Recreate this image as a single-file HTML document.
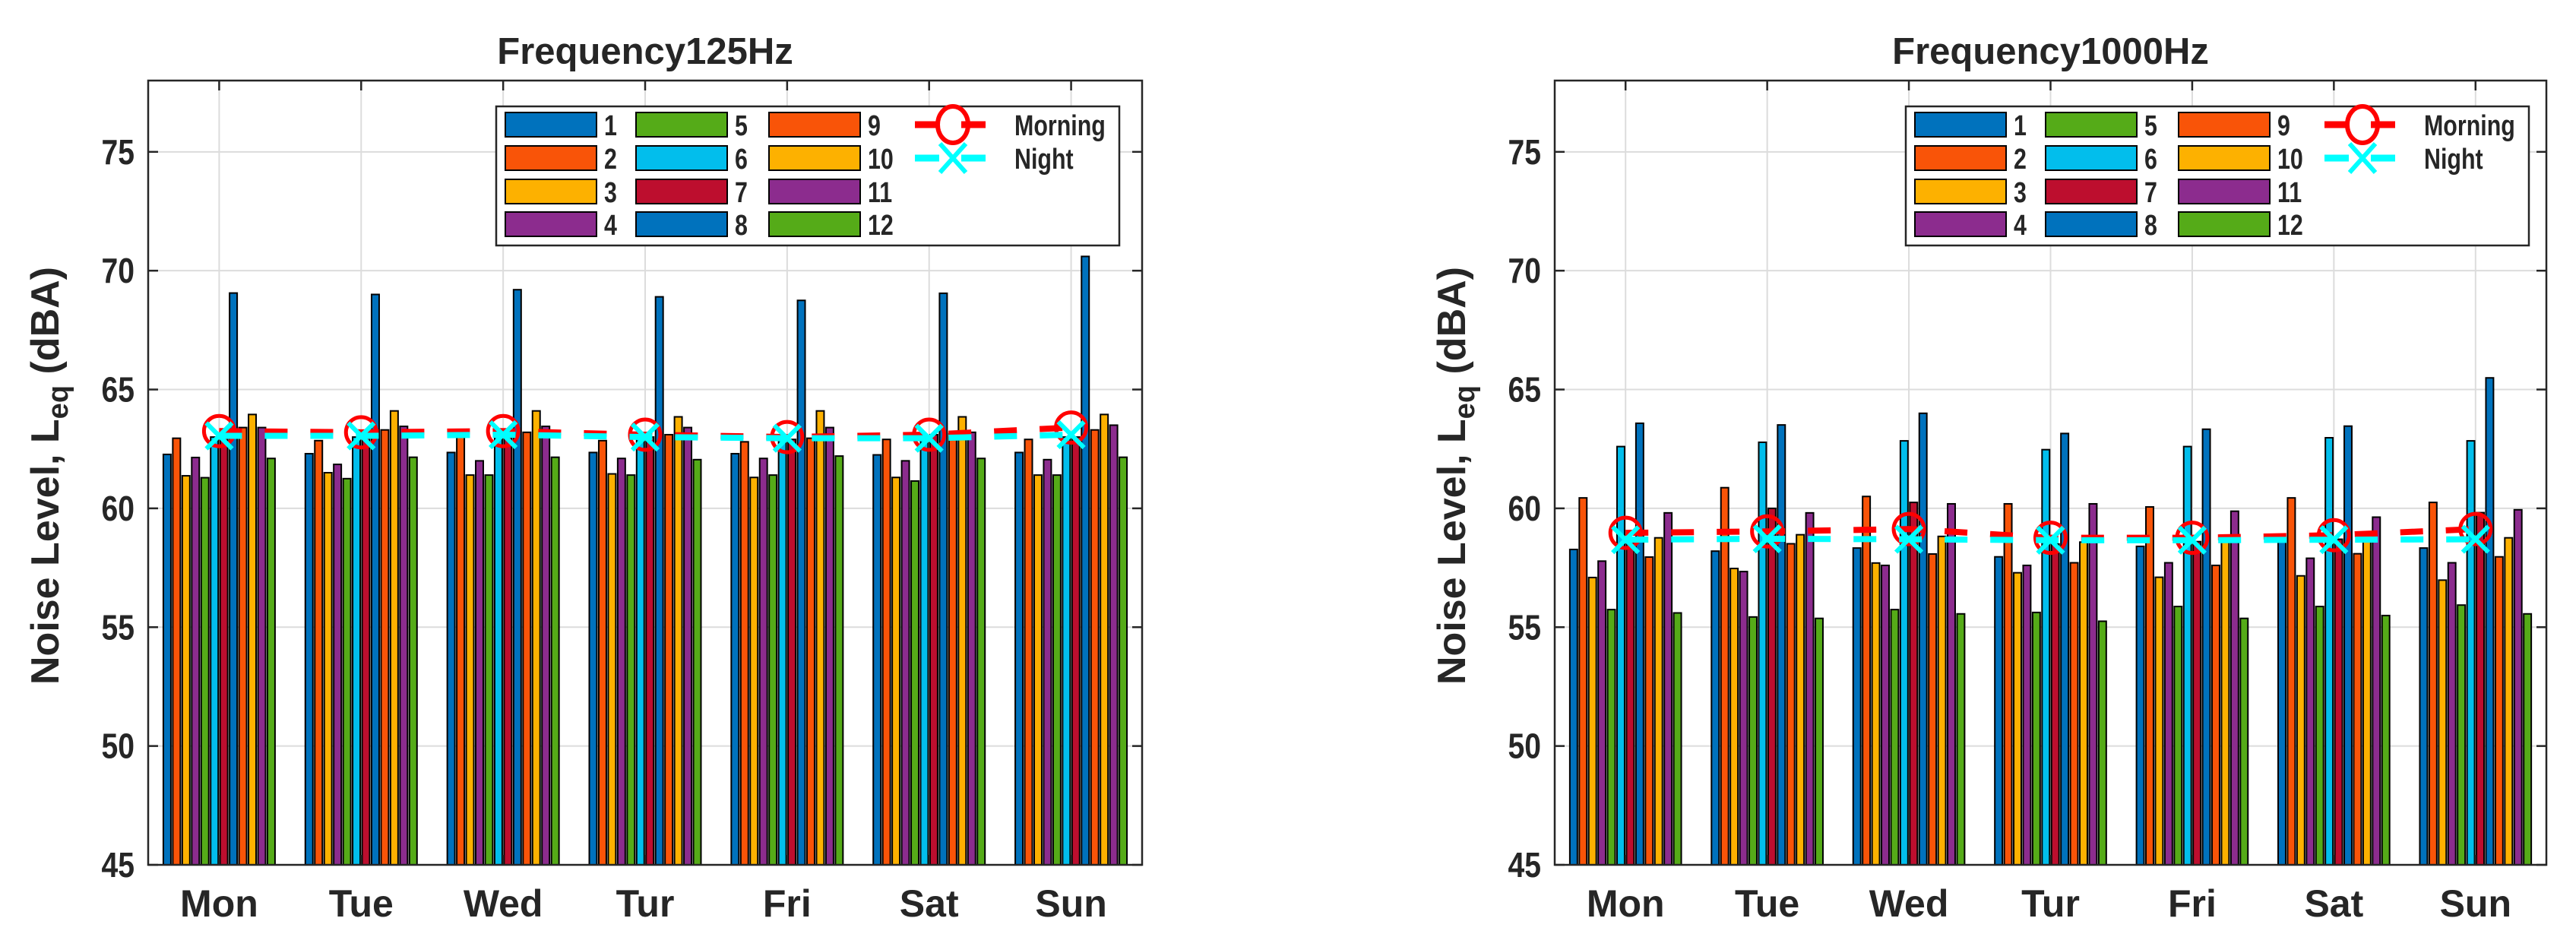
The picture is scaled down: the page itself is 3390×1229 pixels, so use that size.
<!DOCTYPE html>
<html><head><meta charset="utf-8">
<style>
html,body{margin:0;padding:0;background:#fff;}
svg{display:block;}
text{font-family:"Liberation Sans",Arial,sans-serif;font-weight:bold;fill:#262626;}
</style></head>
<body>
<svg id="fig" width="3390" height="1229" viewBox="0 0 3390 1229" xmlns="http://www.w3.org/2000/svg"></svg>
<script>
const days = ["Mon","Tue","Wed","Tur","Fri","Sat","Sun"];
const seriesNames = ["1","2","3","4","5","6","7","8","9","10","11","12"];
const yTicks = [45,50,55,60,65,70,75];
// Frequency 125Hz: per day, values of series 1..12
const f125 = [
 [62.27,62.95,61.37,62.14,61.29,63.0,63.0,69.06,63.4,63.95,63.4,62.1],
 [62.3,62.85,61.5,61.85,61.25,63.0,63.0,69.0,63.3,64.1,63.45,62.15],
 [62.35,63.0,61.4,62.0,61.4,63.1,63.1,69.2,63.2,64.1,63.45,62.15],
 [62.35,62.85,61.45,62.1,61.4,63.0,63.0,68.9,63.1,63.85,63.4,62.05],
 [62.3,62.8,61.3,62.1,61.4,62.9,62.9,68.75,62.95,64.1,63.4,62.2],
 [62.25,62.9,61.3,62.0,61.15,63.0,63.1,69.05,63.15,63.85,63.2,62.1],
 [62.35,62.9,61.4,62.05,61.4,63.0,63.0,70.6,63.3,63.95,63.5,62.15]
];
const f125Morning = [63.25,63.2,63.25,63.1,63.0,63.1,63.4];
const f125Night = [63.05,63.05,63.1,63.0,62.95,62.95,63.1];
// Frequency 1000Hz
const f1000 = [
 [58.27,60.44,57.09,57.78,55.74,62.6,58.6,63.58,57.95,58.76,59.81,55.6],
 [58.2,60.87,57.47,57.34,55.43,62.78,60.0,63.51,58.51,58.89,59.81,55.37],
 [58.33,60.5,57.7,57.6,55.74,62.84,60.25,64.0,58.08,58.82,60.19,55.56],
 [57.96,60.19,57.29,57.6,55.62,62.47,58.5,63.15,57.71,58.58,60.19,55.25],
 [58.4,60.06,57.1,57.71,55.87,62.6,58.6,63.33,57.6,58.64,59.88,55.37],
 [58.64,60.44,57.16,57.9,55.87,62.97,58.7,63.46,58.09,58.64,59.63,55.49],
 [58.33,60.25,56.98,57.71,55.93,62.84,59.82,65.49,57.96,58.76,59.94,55.56]
];
const f1000Morning = [58.97,59.03,59.13,58.76,58.76,58.87,59.13];
const f1000Night = [58.68,58.72,58.7,58.66,58.66,58.68,58.7];

const colors = ["#0072BD","#F95408","#FDB100","#8C2C8E","#55AB18","#02BEEC","#BD0E2E","#0072BD","#F95408","#FDB100","#8C2C8E","#55AB18"];
const NS="http://www.w3.org/2000/svg";
const svg=document.getElementById('fig');
function mk(tag,attrs,parent){const e=document.createElementNS(NS,tag);for(const k in attrs)e.setAttribute(k,attrs[k]);(parent||svg).appendChild(e);return e;}

function drawChart(id,L,R,title,vals,morning,night,legX){
  const T=106,B=1138,ymin=45,ymax=78;
  const g=mk('g',{});
  
  
  const W=R-L, step=W/days.length;
  const xS=i=>L+(i+0.5)*step;
  const yS=v=>B-(v-ymin)/(ymax-ymin)*(B-T);
  yTicks.forEach(t=>{const l=mk('line',{x1:L,x2:R,y1:yS(t),y2:yS(t),stroke:'#dcdcdc','stroke-width':2},g);
    });
  days.forEach((d,i)=>{const l=mk('line',{x1:xS(i),x2:xS(i),y1:T,y2:B,stroke:'#dcdcdc','stroke-width':2},g);
    });
  const gw=0.8*step, slot=gw/12, bw=slot*0.8;
  vals.forEach((row,i)=>{row.forEach((v,k)=>{
    const cx=xS(i)+(k-5.5)*slot;
    const r=mk('rect',{x:cx-bw/2,y:yS(v),width:bw,height:B-yS(v),fill:colors[k],stroke:'#000','stroke-width':2},g);
    
    
  });});
  function line(data,color,nm,marker){
    const pts=data.map((v,i)=>xS(i)+','+yS(v)).join(' ');
    const pl=mk('polyline',{points:pts,fill:'none',stroke:color,'stroke-width':8,'stroke-dasharray':'30 30'},g);
    
    data.forEach((v,i)=>{
      const x=xS(i),y=yS(v);
      if(marker==='o'){const c=mk('circle',{cx:x,cy:y,r:20,fill:'none',stroke:color,'stroke-width':5},g);
        }
      else{const p=mk('path',{d:`M${x-17},${y-17}L${x+17},${y+17}M${x-17},${y+17}L${x+17},${y-17}`,stroke:color,'stroke-width':6},g);
        }
    });
  }
  line(morning,'#FF0000','morning','o');
  line(night,'#00FFFF','night','x');
  const box=mk('rect',{x:L,y:T,width:W,height:B-T,fill:'none',stroke:'#262626','stroke-width':2.5},g);
  
  yTicks.forEach(t=>{
    mk('line',{x1:L,x2:L+13,y1:yS(t),y2:yS(t),stroke:'#262626','stroke-width':2.5},g);
    mk('line',{x1:R,x2:R-13,y1:yS(t),y2:yS(t),stroke:'#262626','stroke-width':2.5},g);
    const tx=mk('text',{x:L-18,y:yS(t)+16,'text-anchor':'end','font-size':46,transform:`translate(${L-18},0) scale(0.85,1) translate(${-(L-18)},0)`},g);
    tx.textContent=t;
  });
  days.forEach((d,i)=>{
    mk('line',{x1:xS(i),x2:xS(i),y1:T,y2:T+13,stroke:'#262626','stroke-width':2.5},g);
    mk('line',{x1:xS(i),x2:xS(i),y1:B,y2:B-13,stroke:'#262626','stroke-width':2.5},g);
    const tx=mk('text',{x:xS(i),y:1206,'text-anchor':'middle','font-size':50},g);
    tx.textContent=d;
  });
  const tt=mk('text',{x:(L+R)/2,y:84,'text-anchor':'middle','font-size':49,fill:'#000'},g);
  tt.textContent=title;
  const yl=mk('text',{x:0,y:0,'text-anchor':'middle','font-size':52,transform:`translate(${L-118},626) rotate(-90)`},g);
  
  yl.innerHTML='Noise Level, L<tspan font-size="38" dy="12">eq</tspan><tspan dy="-12"> (dBA)</tspan>';
  const lg=mk('g',{},g);
  
  mk('rect',{x:legX,y:140,width:820,height:183,fill:'#fff',stroke:'#262626','stroke-width':2.5},lg);
  const rowsY=[164,208,252,295];
  const colX=[12,184,359];
  seriesNames.forEach((s,k)=>{
    const c=Math.floor(k/4), r=k%4;
    const sx=legX+colX[c], sy=rowsY[r];
    const sw=mk('rect',{x:sx,y:sy-16,width:120,height:32,fill:colors[k],stroke:'#000','stroke-width':2},lg);
    
    const t=mk('text',{x:sx+130,y:sy+14,'font-size':38,fill:'#000',transform:`translate(${sx+130},0) scale(0.8,1) translate(${-(sx+130)},0)`},lg);
    t.textContent=s;
  });
  [['Morning','#FF0000','o',rowsY[0]],['Night','#00FFFF','x',rowsY[1]]].forEach(([n,col,m,y])=>{
    const x0=legX+551,x1=legX+644,cx=legX+601;
    mk('line',{x1:x0,x2:x0+32,y1:y,y2:y,stroke:col,'stroke-width':9},lg);
    mk('line',{x1:x1-32,x2:x1,y1:y,y2:y,stroke:col,'stroke-width':9},lg);
    if(m==='o')mk('ellipse',{cx:cx,cy:y,rx:20,ry:24,fill:'none',stroke:col,'stroke-width':6},lg);
    else mk('path',{d:`M${cx-17},${y-19}L${cx+17},${y+19}M${cx-17},${y+19}L${cx+17},${y-19}`,stroke:col,'stroke-width':6},lg);
    const t=mk('text',{x:legX+682,y:y+14,'font-size':38,fill:'#000',transform:`translate(${legX+682},0) scale(0.8,1) translate(${-(legX+682)},0)`},lg);
    t.textContent=n;
  });
}
drawChart('freq125',195,1503,'Frequency125Hz',f125,f125Morning,f125Night,653);
drawChart('freq1000',2046,3351,'Frequency1000Hz',f1000,f1000Morning,f1000Night,2508);
</script>
</body></html>
